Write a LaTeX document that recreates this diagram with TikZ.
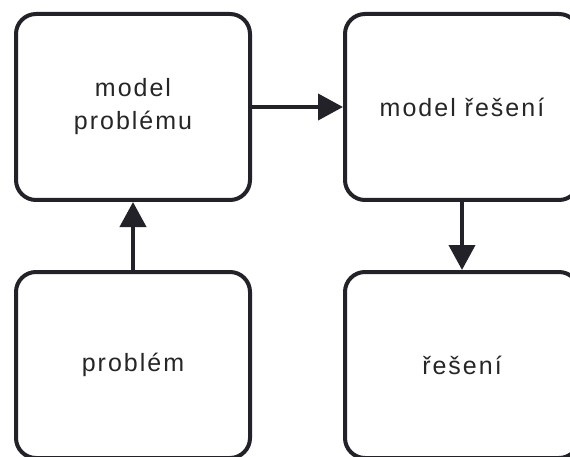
\documentclass[tikz,border=0pt]{standalone}
\usepackage{fontspec}
\setmainfont[LetterSpace=8]{Liberation Sans}
\usetikzlibrary{arrows.meta}
\definecolor{ink}{HTML}{222228}
\definecolor{txt}{HTML}{262626}
\begin{document}
\begin{tikzpicture}[x=1pt,y=-1pt,
  box/.style={draw=ink, line width=4pt, rounded corners=20pt, rectangle,
    minimum width=234pt, minimum height=186pt, inner sep=0pt,
    text=txt, align=center, font=\fontsize{25}{33}\selectfont},
  flow/.style={draw=ink, line width=4pt, -{Triangle[length=25pt,width=26pt]}}]
  \useasboundingbox (0,0) rectangle (570,457);
  \fill[white] (0,0) rectangle (570,457);
  \node[box] (modelp) at (133,107) {model\\problému};
  \node[box] (modelr) at (462,107) {model řešení};
  \node[box] (probl)  at (133,365) {problém};
  \node[box] (reseni) at (462,365) {řešení};
  \draw[flow] (probl) -- (modelp);
  \draw[flow] (modelp) -- (modelr);
  \draw[flow] (modelr) -- (reseni);
\end{tikzpicture}
\end{document}
